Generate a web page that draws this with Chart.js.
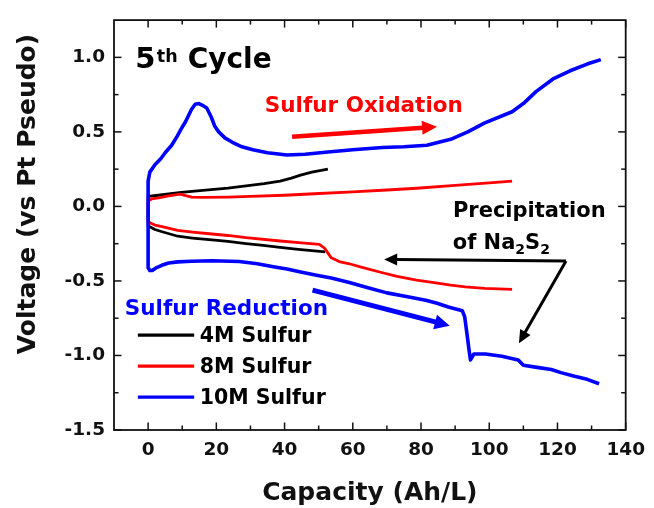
<!DOCTYPE html>
<html><head><meta charset="utf-8">
<script src="https://cdn.jsdelivr.net/npm/chart.js@4.4.1/dist/chart.umd.min.js"></script>
<style>html,body{margin:0;padding:0;background:#fff;}#wrap{width:654px;height:508px;}</style>
</head><body><div id="wrap"><canvas id="c" width="654" height="508" style="width:654px;height:508px"></canvas></div>
<script>
// ---------- data ----------
const seriesNames = ['4M Sulfur', '8M Sulfur', '10M Sulfur'];
const seriesColors = ['#000000', '#ff0000', '#0000ff'];
const xTicks = [0, 20, 40, 60, 80, 100, 120, 140];
const xMinorTicks = [10, 30, 50, 70, 90, 110, 130];
const yTicks = [-1.5, -1.0, -0.5, 0.0, 0.5, 1.0];
const yMinorTicks = [-1.25, -0.75, -0.25, 0.25, 0.75];

// 4M Sulfur: oxidation (charge) and reduction (discharge) [capacity, voltage]
const ox4M = [[0,0.068],[3,0.075],[9.7,0.094],[16,0.108],[23.4,0.123],[28.7,0.138],[34,0.153],[38.7,0.17],[42,0.19],[44.7,0.21],[48,0.23],[52.7,0.25]];
const red4M = [[0,-0.13],[0.5,-0.137],[2,-0.155],[4.1,-0.17],[8.7,-0.2],[13,-0.212],[18.7,-0.225],[23.4,-0.235],[28.7,-0.25],[33.7,-0.262],[38.7,-0.275],[44,-0.288],[48,-0.297],[51.9,-0.305]];
// 8M Sulfur
const ox8M = [[0,0.035],[1,0.05],[3.1,0.057],[6,0.07],[9.4,0.083],[11,0.072],[12.8,0.062],[16,0.06],[23.4,0.062],[30,0.067],[40,0.075],[48.7,0.085],[60,0.098],[70,0.11],[78.7,0.122],[90,0.141],[100,0.158],[106.7,0.17]];
const red8M = [[0,-0.1],[1,-0.115],[2,-0.125],[4.1,-0.135],[8.7,-0.16],[13,-0.172],[18.7,-0.185],[23.4,-0.195],[28.7,-0.21],[38.7,-0.232],[45,-0.245],[50.2,-0.255],[51.7,-0.28],[53.7,-0.345],[56,-0.37],[58.7,-0.383],[63,-0.41],[68.7,-0.445],[73,-0.47],[78.7,-0.495],[84.3,-0.513],[88.7,-0.528],[93,-0.54],[98.7,-0.55],[106.7,-0.557]];
// 10M Sulfur
const ox10M = [[0,0.17],[0.5,0.23],[2,0.28],[3.7,0.32],[5,0.36],[6.9,0.41],[8.5,0.47],[9.7,0.52],[11,0.57],[12.7,0.65],[13.8,0.685],[14.9,0.69],[15.8,0.68],[17.2,0.66],[18.5,0.6],[19.5,0.54],[20.7,0.5],[22.5,0.46],[24.7,0.43],[27.5,0.4],[30.7,0.38],[35,0.36],[40.7,0.345],[46,0.35],[52.7,0.365],[60,0.38],[68.7,0.395],[75,0.4],[81.7,0.41],[88.7,0.45],[93.7,0.5],[98.7,0.56],[106.7,0.635],[110,0.69],[113.7,0.77],[118.7,0.855],[123.7,0.91],[128.7,0.955],[132.7,0.985]];
const red10M = [[0,-0.41],[0.5,-0.43],[1.2,-0.43],[2.5,-0.41],[4,-0.395],[6,-0.38],[8.7,-0.372],[12.7,-0.368],[18.7,-0.365],[26.7,-0.37],[32,-0.385],[36.7,-0.405],[40.7,-0.42],[44.7,-0.44],[49,-0.46],[53.7,-0.48],[59,-0.51],[64.7,-0.547],[70,-0.58],[75.7,-0.605],[81.4,-0.63],[84.7,-0.65],[88,-0.675],[92.1,-0.7],[92.8,-0.74],[93.5,-0.86],[94,-0.95],[94.5,-1.03],[95.5,-0.99],[98.9,-0.99],[103.7,-1.005],[108.5,-1.03],[110,-1.066],[114,-1.08],[118.2,-1.094],[121,-1.115],[125,-1.14],[128.7,-1.16],[132.2,-1.19]];

const oxSeries = [ox4M, ox8M, ox10M];
const redSeries = [red4M, red8M, red10M];

// ---------- chart ----------
const FONT = "'DejaVu Sans', sans-serif";
function buildPath(ox, red) {
  return ox.slice().reverse().concat(red).map(p => ({x: p[0], y: p[1]}));
}
const widths = [2.8, 2.8, 3.6];
const orders = [2, 1, 0];
const datasets = seriesNames.map((n, i) => ({
  label: n,
  data: buildPath(oxSeries[i], redSeries[i]),
  borderColor: seriesColors[i],
  backgroundColor: seriesColors[i],
  borderWidth: widths[i],
  borderJoinStyle: 'round',
  pointRadius: 0,
  tension: 0,
  fill: false,
  order: orders[i]
}));

function arrow(ctx, x1, y1, x2, y2, w, hl, hw, color) {
  const a = Math.atan2(y2 - y1, x2 - x1);
  const bx = x2 - hl * Math.cos(a), by = y2 - hl * Math.sin(a);
  ctx.strokeStyle = color; ctx.fillStyle = color; ctx.lineWidth = w; ctx.lineCap = 'butt';
  ctx.beginPath(); ctx.moveTo(x1, y1); ctx.lineTo(bx + Math.cos(a), by + Math.sin(a)); ctx.stroke();
  ctx.beginPath(); ctx.moveTo(x2, y2);
  ctx.lineTo(bx + hw * Math.sin(a), by - hw * Math.cos(a));
  ctx.lineTo(bx - hw * Math.sin(a), by + hw * Math.cos(a));
  ctx.closePath(); ctx.fill();
}

const decor = {
  id: 'decor',
  afterDatasetsDraw(chart) {
    const {ctx, chartArea: A, scales: {x, y}} = chart;
    const px = v => x.getPixelForValue(v), py = v => y.getPixelForValue(v);
    ctx.save();
    // frame
    ctx.strokeStyle = '#111'; ctx.lineWidth = 1.8;
    ctx.strokeRect(A.left, A.top, A.right - A.left, A.bottom - A.top);
    const seg = (a, b, c, d) => { ctx.beginPath(); ctx.moveTo(a, b); ctx.lineTo(c, d); ctx.stroke(); };
    ctx.lineWidth = 1.5;
    xTicks.forEach(v => { const p = px(v); seg(p, A.bottom, p, A.bottom - 7.5); seg(p, A.top, p, A.top + 7.5); });
    xMinorTicks.forEach(v => { const p = px(v); seg(p, A.bottom, p, A.bottom - 4.5); seg(p, A.top, p, A.top + 4.5); });
    yTicks.forEach(v => { const p = py(v); seg(A.left, p, A.left + 7.5, p); seg(A.right, p, A.right - 7.5, p); });
    yMinorTicks.forEach(v => { const p = py(v); seg(A.left, p, A.left + 4.5, p); seg(A.right, p, A.right - 4.5, p); });

    // y axis title
    ctx.save();
    ctx.translate(28, 194);
    ctx.rotate(-Math.PI / 2);
    ctx.font = "bold 25px " + FONT; ctx.fillStyle = '#111';
    ctx.textAlign = 'center'; ctx.textBaseline = 'middle';
    ctx.fillText('Voltage (vs Pt Pseudo)', 0, 0);
    ctx.restore();

    // "5th Cycle"
    ctx.textAlign = 'left'; ctx.textBaseline = 'alphabetic'; ctx.fillStyle = '#000';
    let tx = px(-3.8), ty = py(0.927);
    ctx.font = "bold 29px " + FONT; ctx.fillText('5', tx, ty);
    tx += ctx.measureText('5').width + 1.5;
    ctx.font = "bold 17.5px " + FONT; ctx.fillText('th', tx, ty - 6);
    tx += ctx.measureText('th').width + 10;
    ctx.font = "bold 28px " + FONT; ctx.fillText('Cycle', tx, ty);

    // Sulfur Oxidation
    ctx.font = "bold 21.5px " + FONT; ctx.fillStyle = '#ff0000';
    ctx.fillText('Sulfur Oxidation', px(34.2), py(0.632));
    arrow(ctx, px(42.2), py(0.468), px(84.7), py(0.535), 4.5, 15, 7, '#ff0000');

    // Sulfur Reduction
    ctx.fillStyle = '#0000ff';
    ctx.fillText('Sulfur Reduction', px(-6.85), py(-0.728));
    arrow(ctx, px(48.2), py(-0.562), px(88.4), py(-0.8), 5, 15, 7.5, '#0000ff');

    // Precipitation of Na2S2
    ctx.fillStyle = '#000';
    ctx.font = "bold 21px " + FONT;
    ctx.fillText('Precipitation', px(89.35), py(-0.074));
    let nx = px(89.3), ny = py(-0.283);
    ctx.fillText('of Na', nx, ny); nx += ctx.measureText('of Na').width;
    ctx.font = "bold 14px " + FONT; ctx.fillText('2', nx, ny + 5); nx += ctx.measureText('2').width;
    ctx.font = "bold 21px " + FONT; ctx.fillText('S', nx, ny); nx += ctx.measureText('S').width;
    ctx.font = "bold 14px " + FONT; ctx.fillText('2', nx, ny + 5);
    const jx = px(122.5), jy = py(-0.366);
    arrow(ctx, jx, jy, px(69.2), py(-0.356), 3, 13, 6, '#000');
    arrow(ctx, jx, jy, px(108.7), py(-0.918), 3, 13, 6, '#000');

    // legend
    const lx0 = px(-3.0), lx1 = px(13.5);
    let ly = py(-0.864);
    ctx.font = "bold 20.5px " + FONT; ctx.textBaseline = 'middle';
    seriesNames.forEach((n, i) => {
      ctx.strokeStyle = seriesColors[i]; ctx.lineWidth = 3.2;
      seg(lx0, ly, lx1, ly);
      ctx.fillStyle = '#000';
      ctx.fillText(n, lx1 + 5.5, ly + 1);
      ly += 31;
    });
    ctx.restore();
  }
};

new Chart(document.getElementById('c'), {
  type: 'line',
  data: {datasets},
  options: {
    responsive: false,
    animation: false,
    parsing: true,
    layout: {padding: {left: 0, right: 23, top: 13, bottom: 0}},
    plugins: {legend: {display: false}, tooltip: {enabled: false}},
    scales: {
      x: {
        type: 'linear', min: -10, max: 140,
        afterBuildTicks: s => { s.ticks = xTicks.map(v => ({value: v})); },
        afterFit: s => { s.height = 78; },
        grid: {display: false, drawTicks: false},
        border: {display: false},
        ticks: {autoSkip: false, maxRotation: 0, padding: 9, color: '#111',
                font: {family: FONT, size: 18.5, weight: 'bold'}, callback: v => String(v)},
        title: {display: true, text: 'Capacity (Ah/L)', color: '#111', padding: {top: 0, bottom: 0},
                font: {family: FONT, size: 25, weight: 'bold'}}
      },
      y: {
        type: 'linear', min: -1.5, max: 1.25,
        afterBuildTicks: s => { s.ticks = yTicks.map(v => ({value: v})); },
        afterFit: s => { s.width = 114; },
        grid: {display: false, drawTicks: false},
        border: {display: false},
        ticks: {autoSkip: false, padding: 9, color: '#111',
                font: {family: FONT, size: 18.5, weight: 'bold'}, callback: v => Number(v).toFixed(1)}
      }
    }
  },
  plugins: [decor]
});
</script></body></html>
